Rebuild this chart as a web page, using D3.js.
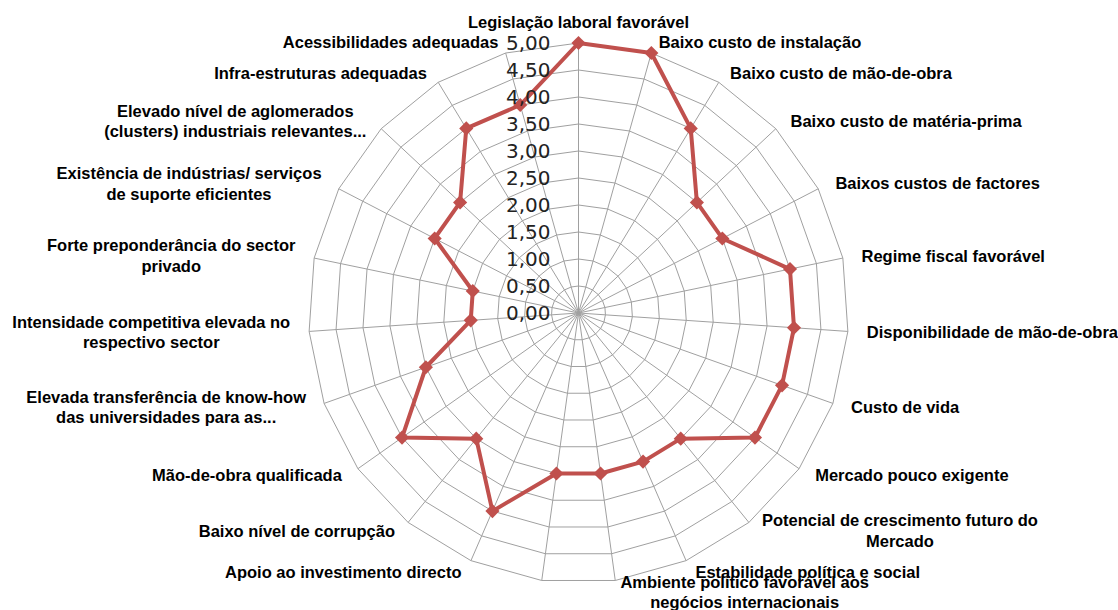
<!DOCTYPE html>
<html><head><meta charset="utf-8">
<script src="https://cdn.jsdelivr.net/npm/d3@7"></script>
<style>
html,body{margin:0;padding:0;background:#fff;}
svg{display:block;}
</style>
</head><body>
<svg id="chart" width="1118" height="610"></svg>
<script>
const categories = [
  "Legislação laboral favorável",
  "Baixo custo de instalação",
  "Baixo custo de mão-de-obra",
  "Baixo custo de matéria-prima",
  "Baixos custos de factores",
  "Regime fiscal favorável",
  "Disponibilidade de mão-de-obra",
  "Custo de vida",
  "Mercado pouco exigente",
  "Potencial de crescimento futuro do\nMercado",
  "Estabilidade política e social",
  "Ambiente político favorável aos\nnegócios internacionais",
  "",
  "Apoio ao investimento directo",
  "Baixo nível de corrupção",
  "Mão-de-obra qualificada",
  "Elevada transferência de know-how\ndas universidades para as...",
  "Intensidade competitiva elevada no\nrespectivo sector",
  "Forte preponderância do sector\nprivado",
  "Existência de indústrias/ serviços\nde suporte eficientes",
  "Elevado nível de aglomerados\n(clusters) industriais relevantes...",
  "Infra-estruturas adequadas",
  "Acessibilidades adequadas"
];
const values = [5, 5, 4, 3, 3, 4, 4, 4, 4, 3, 3, 3, 3, 4, 3, 4, 3, 2, 2, 3, 3, 4, 4];
const tickValues = [0, 0.5, 1, 1.5, 2, 2.5, 3, 3.5, 4, 4.5, 5];

const svg = d3.select("#chart");
const cx = 578.5, cy = 313, R = 270;
const n = categories.length;
const r = d3.scaleLinear().domain([0, 5]).range([0, R]);
const ang = d3.scaleLinear().domain([0, n]).range([0, 2 * Math.PI]);
const pt = (i, v) => [cx + r(v) * Math.sin(ang(i)), cy - r(v) * Math.cos(ang(i))];
const fmt = d3.formatLocale({decimal: ",", thousands: ".", grouping: [3], currency: ["", "€"]}).format(".2f");

const g = svg.append("g");
const idx = d3.range(n);
g.selectAll("path.ring").data(tickValues.filter(t => t > 0)).join("path")
  .attr("class", "ring")
  .attr("d", t => d3.line()(idx.map(i => pt(i, t))) + "Z")
  .attr("fill", "none").attr("stroke", "#a0a0a0").attr("stroke-width", 1);
g.selectAll("line.spoke").data(idx).join("line")
  .attr("class", "spoke")
  .attr("x1", cx).attr("y1", cy)
  .attr("x2", i => pt(i, 5)[0]).attr("y2", i => pt(i, 5)[1])
  .attr("stroke", "#a0a0a0").attr("stroke-width", 1);

const linePts = values.map((v, i) => pt(i, v));
g.append("path")
  .attr("d", d3.line()(linePts) + "Z")
  .attr("fill", "none").attr("stroke", "#c0504d").attr("stroke-width", 4)
  .attr("stroke-linejoin", "round");
g.selectAll("path.marker").data(values).join("path")
  .attr("class", "marker")
  .attr("d", d3.symbol(d3.symbolSquare, 100))
  .attr("transform", (v, i) => `translate(${pt(i, v)[0]},${pt(i, v)[1]}) rotate(45)`)
  .attr("fill", "#c0504d");

g.selectAll("text.tick").data(tickValues).join("text")
  .attr("class", "tick")
  .attr("x", cx - 28).attr("y", t => cy - r(t))
  .attr("dy", "0.36em")
  .attr("text-anchor", "end")
  .attr("font-family", "DejaVu Sans, sans-serif")
  .attr("font-size", 20)
  .attr("fill", "#222")
  .text(t => fmt(t));

const lineH = 20.5;
categories.forEach((label, i) => {
  if (!label) return;
  const a = ang(i);
  const s = Math.sin(a), c = Math.cos(a);
  const [ex, ey] = pt(i, 5);
  const lines = label.split("\n");
  const t = g.append("text")
    .attr("font-family", "Liberation Sans, Arial, sans-serif")
    .attr("font-weight", "bold")
    .attr("font-size", 16.5)
    .attr("fill", "#000")
    .attr("text-anchor", "middle");
  const spans = lines.map(l => t.append("tspan").text(l));
  const w = d3.max(spans, sp => sp.node().getComputedTextLength());
  let bx, by;
  if (Math.abs(s) < 0.05) {
    bx = ex;
    by = ey - 21;
  } else {
    const gap = 3 + 16 * Math.abs(s);
    bx = s > 0 ? ex + gap + w / 2 : ex - gap - w / 2;
    by = ey - 11 * c + (c < -0.9 ? 1 : 0);
  }
  const top = by - (lines.length - 1) * lineH / 2;
  spans.forEach((sp, k) => sp.attr("x", bx).attr("y", top + k * lineH).attr("dy", "0.35em"));
});
</script>
</body></html>
